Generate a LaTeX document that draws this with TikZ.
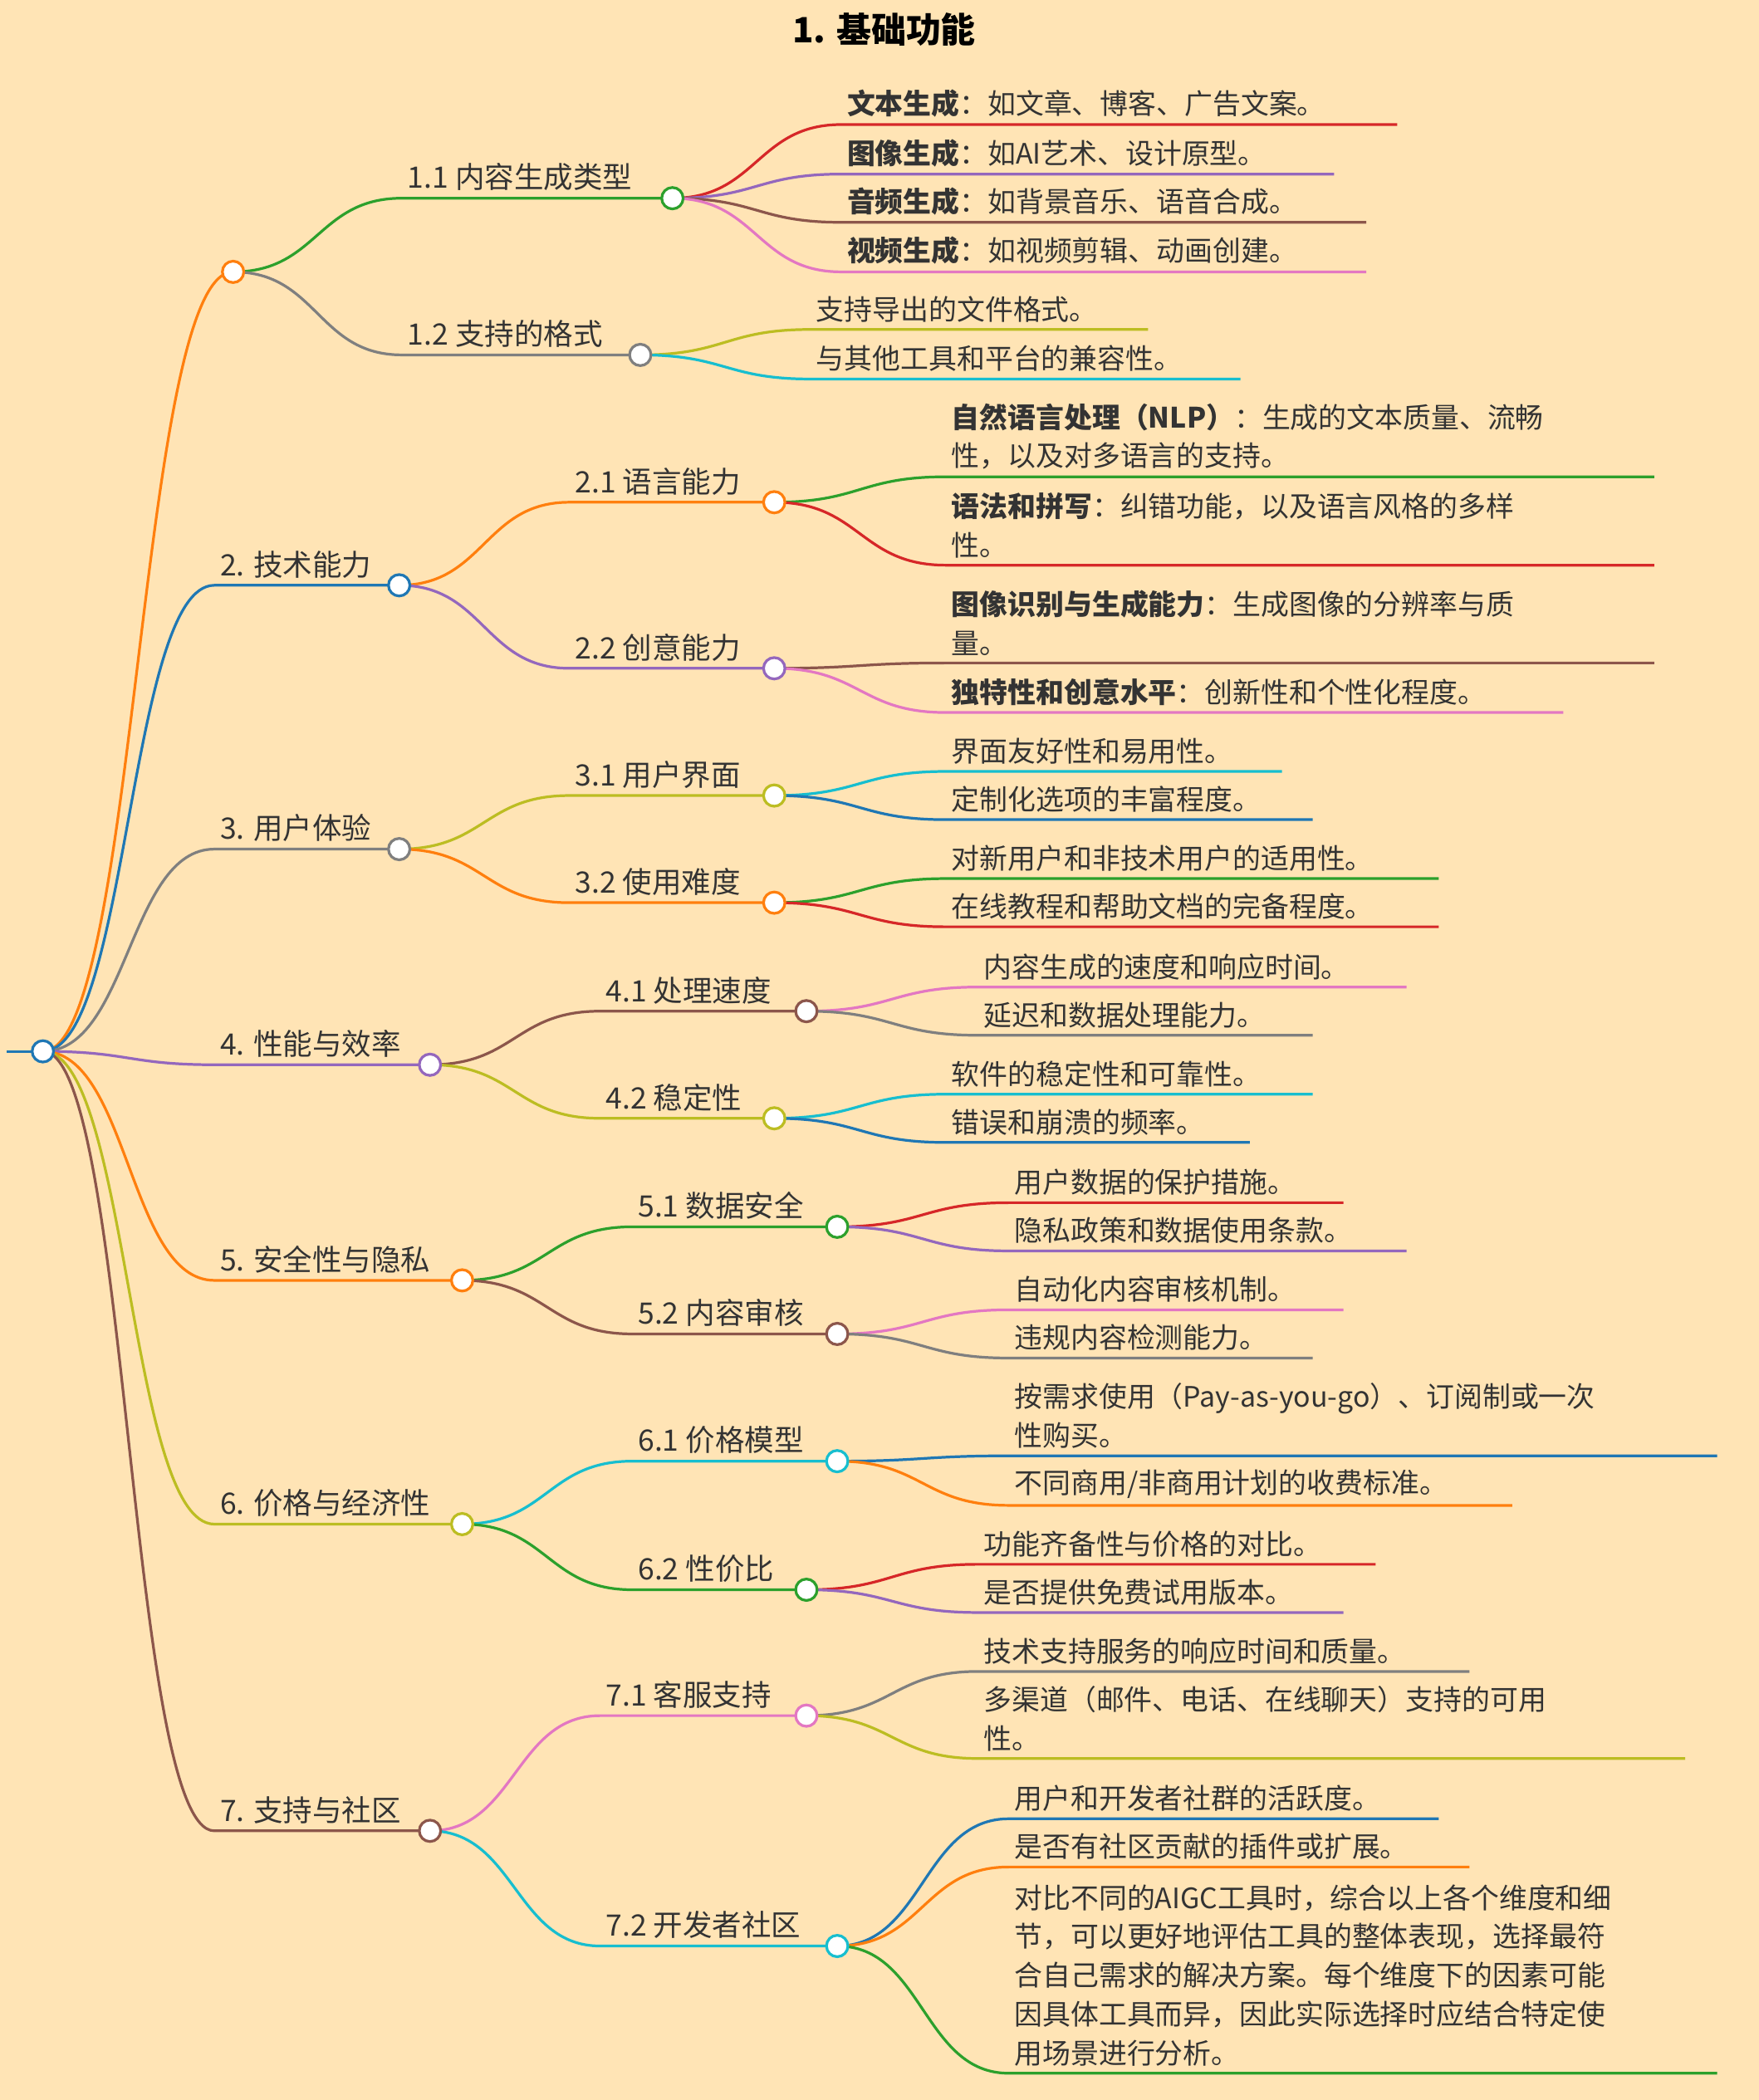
\documentclass[tikz,border=0pt]{standalone}
\usepackage{fontspec}
\setmainfont{Noto Sans CJK SC}
\usetikzlibrary{calc}
\definecolor{bg}{HTML}{FFE4B5}
\definecolor{txt}{HTML}{333333}
\definecolor{cb}{HTML}{1F77B4}\definecolor{co}{HTML}{FF7F0E}\definecolor{cg}{HTML}{2CA02C}
\definecolor{cr}{HTML}{D62728}\definecolor{cp}{HTML}{9467BD}\definecolor{cn}{HTML}{8C564B}
\definecolor{ck}{HTML}{E377C2}\definecolor{cy}{HTML}{7F7F7F}\definecolor{cl}{HTML}{BCBD22}
\definecolor{cc}{HTML}{17BECF}
\tikzset{edge/.style={line width=1pt},
 dot/.style={circle,draw=#1,fill=white,line width=1pt,minimum size=8pt,inner sep=0pt},
 lbl/.style={anchor=south west,inner sep=1pt,xshift=1pt,yshift=1.5pt,text=txt,font=\fontsize{11}{14}\selectfont},
 lf/.style={anchor=south west,inner sep=1pt,xshift=1pt,yshift=1.5pt,text=txt,align=left,font=\fontsize{10.5}{14.5}\selectfont}}
\newcommand\conn[6]{%
 \coordinate (#2s) at (#3,#4); \coordinate (#2) at (#5,#4);
 \coordinate (#2m) at ($(#1)!.5!(#2s)$);
 \draw[edge,#6] (#1) .. controls (#2m |- #1) and (#2m |- #2s) .. (#2s) -- (#2);}
\newcommand\mnode[7]{\conn{#1}{#2}{#3}{#4}{#5}{#6}\node[lbl] at (#2s) {#7};}
\newcommand\leaf[7]{\conn{#1}{#2}{#3}{#4}{#5}{#6}\node[lf] at (#2s) {#7};}
\begin{document}
\begin{tikzpicture}[x=0.5pt,y=-0.5pt]
\fill[bg] (0,0) rectangle (1313,1568);
\useasboundingbox (0,0) rectangle (1313,1568);
\node[font=\bfseries\fontsize{13}{15}\selectfont,text=black] (title) at (660,22) {1. 基础功能};
\coordinate (r) at (32,785);
\coordinate (r0) at (5,785);
\draw[edge,cb] (r0) -- (r);
% level 1
\conn{r}{n1}{174}{203}{174}{co}
\mnode{r}{n2}{160}{437}{298}{cb}{2. 技术能力}
\mnode{r}{n3}{160}{634}{298}{cy}{3. 用户体验}
\mnode{r}{n4}{160}{795}{321}{cp}{4. 性能与效率}
\mnode{r}{n5}{160}{956}{345}{co}{5. 安全性与隐私}
\mnode{r}{n6}{160}{1138}{345}{cl}{6. 价格与经济性}
\mnode{r}{n7}{160}{1367}{321}{cn}{7. 支持与社区}
% level 2
\mnode{n1}{n11}{300}{148}{502}{cg}{1.1 内容生成类型}
\mnode{n1}{n12}{300}{265}{478}{cy}{1.2 支持的格式}
\mnode{n2}{n21}{425}{375}{578}{co}{2.1 语言能力}
\mnode{n2}{n22}{425}{499}{578}{cp}{2.2 创意能力}
\mnode{n3}{n31}{425}{594}{578}{cl}{3.1 用户界面}
\mnode{n3}{n32}{425}{674}{578}{co}{3.2 使用难度}
\mnode{n4}{n41}{448}{755}{602}{cn}{4.1 处理速度}
\mnode{n4}{n42}{448}{835}{578}{cl}{4.2 稳定性}
\mnode{n5}{n51}{472}{916}{625}{cg}{5.1 数据安全}
\mnode{n5}{n52}{472}{996}{625}{cn}{5.2 内容审核}
\mnode{n6}{n61}{472}{1091}{625}{cc}{6.1 价格模型}
\mnode{n6}{n62}{472}{1187}{602}{cg}{6.2 性价比}
\mnode{n7}{n71}{448}{1281}{602}{ck}{7.1 客服支持}
\mnode{n7}{n72}{448}{1453}{625}{cc}{7.2 开发者社区}
% leaves
\leaf{n11}{a1}{628}{93}{1043}{cr}{\textbf{文本生成}：如文章、博客、广告文案。}
\leaf{n11}{a2}{628}{130}{996}{cp}{\textbf{图像生成}：如AI艺术、设计原型。}
\leaf{n11}{a3}{628}{166}{1020}{cn}{\textbf{音频生成}：如背景音乐、语音合成。}
\leaf{n11}{a4}{628}{203}{1020}{ck}{\textbf{视频生成}：如视频剪辑、动画创建。}
\leaf{n12}{b1}{605}{246}{857}{cl}{支持导出的文件格式。}
\leaf{n12}{b2}{605}{283}{926}{cc}{与其他工具和平台的兼容性。}
\leaf{n21}{c1}{706}{356}{1235}{cg}{\textbf{自然语言处理（NLP）}：生成的文本质量、流畅\\性，以及对多语言的支持。}
\leaf{n21}{c2}{706}{422}{1235}{cr}{\textbf{语法和拼写}：纠错功能，以及语言风格的多样\\性。}
\leaf{n22}{d1}{706}{495}{1235}{cn}{\textbf{图像识别与生成能力}：生成图像的分辨率与质\\量。}
\leaf{n22}{d2}{706}{532}{1167}{ck}{\textbf{独特性和创意水平}：创新性和个性化程度。}
\leaf{n31}{e1}{706}{576}{957}{cc}{界面友好性和易用性。}
\leaf{n31}{e2}{706}{612}{980}{cb}{定制化选项的丰富程度。}
\leaf{n32}{f1}{706}{656}{1074}{cg}{对新用户和非技术用户的适用性。}
\leaf{n32}{f2}{706}{692}{1074}{cr}{在线教程和帮助文档的完备程度。}
\leaf{n41}{g1}{730}{737}{1050}{ck}{内容生成的速度和响应时间。}
\leaf{n41}{g2}{730}{773}{980}{cy}{延迟和数据处理能力。}
\leaf{n42}{h1}{706}{817}{980}{cc}{软件的稳定性和可靠性。}
\leaf{n42}{h2}{706}{853}{933}{cb}{错误和崩溃的频率。}
\leaf{n51}{i1}{753}{898}{1003}{cr}{用户数据的保护措施。}
\leaf{n51}{i2}{753}{934}{1050}{cp}{隐私政策和数据使用条款。}
\leaf{n52}{j1}{753}{978}{1003}{ck}{自动化内容审核机制。}
\leaf{n52}{j2}{753}{1014}{980}{cy}{违规内容检测能力。}
\leaf{n61}{k1}{753}{1087}{1282}{cb}{按需求使用（Pay-as-you-go）、订阅制或一次\\性购买。}
\leaf{n61}{k2}{753}{1124}{1129}{co}{不同商用/非商用计划的收费标准。}
\leaf{n62}{l1}{730}{1168}{1027}{cr}{功能齐备性与价格的对比。}
\leaf{n62}{l2}{730}{1204}{1003}{cp}{是否提供免费试用版本。}
\leaf{n71}{m1}{730}{1248}{1097}{cy}{技术支持服务的响应时间和质量。}
\leaf{n71}{m2}{730}{1313}{1258}{cl}{多渠道（邮件、电话、在线聊天）支持的可用\\性。}
\leaf{n72}{o1}{753}{1358}{1074}{cb}{用户和开发者社群的活跃度。}
\leaf{n72}{o2}{753}{1394}{1097}{co}{是否有社区贡献的插件或扩展。}
\leaf{n72}{o3}{753}{1548}{1282}{cg}{对比不同的AIGC工具时，综合以上各个维度和细\\节，可以更好地评估工具的整体表现，选择最符\\合自己需求的解决方案。每个维度下的因素可能\\因具体工具而异，因此实际选择时应结合特定使\\用场景进行分析。}
% dots
\node[dot=cb] (cr0) at (r) {};
\node[dot=co] at (n1) {};
\node[dot=cb] at (n2) {};
\node[dot=cy] at (n3) {};
\node[dot=cp] at (n4) {};
\node[dot=co] at (n5) {};
\node[dot=cl] at (n6) {};
\node[dot=cn] at (n7) {};
\node[dot=cg] at (n11) {};
\node[dot=cy] at (n12) {};
\node[dot=co] at (n21) {};
\node[dot=cp] at (n22) {};
\node[dot=cl] at (n31) {};
\node[dot=co] at (n32) {};
\node[dot=cn] at (n41) {};
\node[dot=cl] at (n42) {};
\node[dot=cg] at (n51) {};
\node[dot=cn] at (n52) {};
\node[dot=cc] at (n61) {};
\node[dot=cg] at (n62) {};
\node[dot=ck] at (n71) {};
\node[dot=cc] at (n72) {};
\end{tikzpicture}
\end{document}
